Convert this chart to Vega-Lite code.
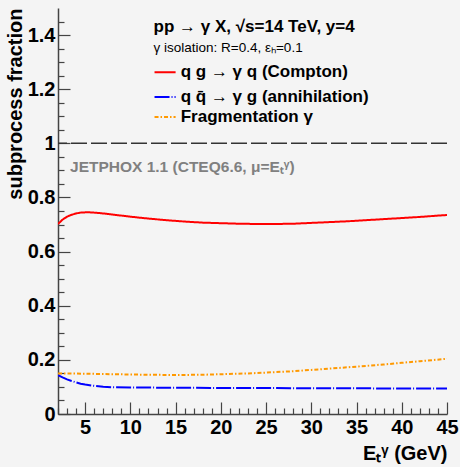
{
  "$schema": "https://vega.github.io/schema/vega-lite/v6.json",
  "width": 389,
  "height": 406,
  "autosize": {"type": "none"},
  "padding": {"left": 58, "top": 8, "right": 13, "bottom": 53},
  "background": "#f4f4f4",
  "config": {
    "view": {"stroke": null, "fill": "#f4f4f4"},
    "font": "Liberation Sans",
    "axis": {
      "labelFont": "Liberation Sans", "labelFontWeight": "bold", "labelFontSize": 20, "labelColor": "#000000",
      "titleFont": "Liberation Sans", "titleFontWeight": "bold", "titleFontSize": 20, "titleColor": "#000000",
      "domainColor": "#444444", "domainWidth": 1.5, "tickColor": "#444444", "tickWidth": 1.2,
      "grid": false, "labelOverlap": false, "labelFlush": false, "labelBound": false
    }
  },
  "resolve": {"axis": {"x": "independent", "y": "independent"}},
  "datasets": {
    "curves": [
      {"series": "Compton", "et": 2, "frac": 0.702}, {"series": "Compton", "et": 2.5, "frac": 0.718},
      {"series": "Compton", "et": 3, "frac": 0.729}, {"series": "Compton", "et": 3.5, "frac": 0.736},
      {"series": "Compton", "et": 4, "frac": 0.741}, {"series": "Compton", "et": 4.5, "frac": 0.744},
      {"series": "Compton", "et": 5, "frac": 0.745}, {"series": "Compton", "et": 5.5, "frac": 0.745},
      {"series": "Compton", "et": 6, "frac": 0.744}, {"series": "Compton", "et": 7, "frac": 0.741},
      {"series": "Compton", "et": 8, "frac": 0.737}, {"series": "Compton", "et": 9, "frac": 0.733},
      {"series": "Compton", "et": 10, "frac": 0.729}, {"series": "Compton", "et": 12, "frac": 0.722},
      {"series": "Compton", "et": 14, "frac": 0.716}, {"series": "Compton", "et": 16, "frac": 0.711},
      {"series": "Compton", "et": 18, "frac": 0.707}, {"series": "Compton", "et": 20, "frac": 0.705},
      {"series": "Compton", "et": 22, "frac": 0.703}, {"series": "Compton", "et": 24, "frac": 0.702},
      {"series": "Compton", "et": 26, "frac": 0.702}, {"series": "Compton", "et": 28, "frac": 0.703},
      {"series": "Compton", "et": 30, "frac": 0.706}, {"series": "Compton", "et": 32, "frac": 0.709},
      {"series": "Compton", "et": 34, "frac": 0.712}, {"series": "Compton", "et": 36, "frac": 0.716},
      {"series": "Compton", "et": 38, "frac": 0.72}, {"series": "Compton", "et": 40, "frac": 0.724},
      {"series": "Compton", "et": 42, "frac": 0.728}, {"series": "Compton", "et": 44, "frac": 0.733},
      {"series": "Compton", "et": 45, "frac": 0.735},
      {"series": "annihilation", "et": 2, "frac": 0.144}, {"series": "annihilation", "et": 2.5, "frac": 0.135},
      {"series": "annihilation", "et": 3, "frac": 0.128}, {"series": "annihilation", "et": 3.5, "frac": 0.122},
      {"series": "annihilation", "et": 4, "frac": 0.117}, {"series": "annihilation", "et": 4.5, "frac": 0.112},
      {"series": "annihilation", "et": 5, "frac": 0.109}, {"series": "annihilation", "et": 6, "frac": 0.104},
      {"series": "annihilation", "et": 7, "frac": 0.101}, {"series": "annihilation", "et": 8, "frac": 0.099},
      {"series": "annihilation", "et": 10, "frac": 0.098}, {"series": "annihilation", "et": 15, "frac": 0.097},
      {"series": "annihilation", "et": 20, "frac": 0.096}, {"series": "annihilation", "et": 25, "frac": 0.096},
      {"series": "annihilation", "et": 30, "frac": 0.095}, {"series": "annihilation", "et": 35, "frac": 0.095},
      {"series": "annihilation", "et": 40, "frac": 0.094}, {"series": "annihilation", "et": 45, "frac": 0.094},
      {"series": "fragmentation", "et": 2, "frac": 0.15}, {"series": "fragmentation", "et": 5, "frac": 0.149},
      {"series": "fragmentation", "et": 8, "frac": 0.147}, {"series": "fragmentation", "et": 10, "frac": 0.146},
      {"series": "fragmentation", "et": 12, "frac": 0.145}, {"series": "fragmentation", "et": 15, "frac": 0.144},
      {"series": "fragmentation", "et": 18, "frac": 0.145}, {"series": "fragmentation", "et": 20, "frac": 0.147},
      {"series": "fragmentation", "et": 23, "frac": 0.15}, {"series": "fragmentation", "et": 25, "frac": 0.153},
      {"series": "fragmentation", "et": 28, "frac": 0.158}, {"series": "fragmentation", "et": 30, "frac": 0.163},
      {"series": "fragmentation", "et": 33, "frac": 0.17}, {"series": "fragmentation", "et": 35, "frac": 0.175},
      {"series": "fragmentation", "et": 38, "frac": 0.183}, {"series": "fragmentation", "et": 40, "frac": 0.189},
      {"series": "fragmentation", "et": 42, "frac": 0.195}, {"series": "fragmentation", "et": 45, "frac": 0.204}
    ],
    "legend": [
      {"series": "Compton", "x0": 12.67, "x1": 15.0, "y": 1.263, "label": "q g → γ q (Compton)", "tx": 15.56},
      {"series": "annihilation", "x0": 12.67, "x1": 15.0, "y": 1.171, "label": "q q̄ → γ g (annihilation)", "tx": 15.56},
      {"series": "fragmentation", "x0": 12.67, "x1": 15.0, "y": 1.097, "label": "Fragmentation γ", "tx": 15.56}
    ]
  },
  "layer": [
    {
      "data": {"name": "curves"},
      "mark": {"type": "line", "strokeWidth": 2, "clip": true},
      "encoding": {
        "x": {"field": "et", "type": "quantitative",
          "scale": {"domain": [2, 45], "nice": false, "zero": false},
          "axis": {
            "orient": "bottom",
            "values": [5, 10, 15, 20, 25, 30, 35, 40, 45],
            "format": "d",
            "tickSize": -12,
            "labelPadding": 15,
            "title": "Eₜᵞ (GeV)", "titleAnchor": "end", "titlePadding": 6
          }
        },
        "y": {"field": "frac", "type": "quantitative",
          "scale": {"domain": [0, 1.5], "nice": false},
          "axis": {
            "orient": "left",
            "values": [0, 0.2, 0.4, 0.6, 0.8, 1, 1.2, 1.4],
            "labelExpr": "format(datum.value, '~g')",
            "tickSize": -12,
            "labelPadding": 15,
            "title": "subprocess fraction", "titleAnchor": "end", "titlePadding": 2
          }
        },
        "color": {"field": "series", "type": "nominal", "legend": null,
          "scale": {"domain": ["Compton", "annihilation", "fragmentation"], "range": ["#ff0000", "#0000ff", "#ff9900"]}},
        "strokeDash": {"field": "series", "type": "nominal", "legend": null,
          "scale": {"domain": ["Compton", "annihilation", "fragmentation"], "range": [[1, 0], [15, 2, 1, 2], [4, 2, 1.5, 2]]}}
      }
    },
    {
      "data": {"values": [{"ref": 1}]},
      "mark": {"type": "rule", "color": "#333333", "strokeWidth": 1.5, "strokeDash": [16, 4]},
      "encoding": {"y": {"field": "ref", "type": "quantitative", "axis": null}}
    },
    {
      "data": {"name": "legend"},
      "mark": {"type": "rule", "strokeWidth": 2},
      "encoding": {
        "x": {"field": "x0", "type": "quantitative",
          "axis": {
            "orient": "bottom",
            "values": [2,3,4,6,7,8,9,11,12,13,14,16,17,18,19,21,22,23,24,26,27,28,29,31,32,33,34,36,37,38,39,41,42,43,44],
            "tickSize": -6, "labels": false, "domain": false, "title": null
          }
        },
        "x2": {"field": "x1"},
        "y": {"field": "y", "type": "quantitative",
          "axis": {
            "orient": "left",
            "values": [0.05,0.1,0.15,0.25,0.3,0.35,0.45,0.5,0.55,0.65,0.7,0.75,0.85,0.9,0.95,1.05,1.1,1.15,1.25,1.3,1.35,1.45],
            "tickSize": -6, "labels": false, "domain": false, "title": null
          }
        },
        "color": {"field": "series", "type": "nominal", "legend": null},
        "strokeDash": {"field": "series", "type": "nominal", "legend": null}
      }
    },
    {
      "data": {"name": "legend"},
      "mark": {"type": "text", "align": "left", "baseline": "middle", "fontSize": 17, "fontWeight": "bold", "font": "Liberation Sans", "color": "#000000"},
      "encoding": {
        "x": {"field": "tx", "type": "quantitative", "axis": null},
        "y": {"field": "y", "type": "quantitative", "axis": null},
        "text": {"field": "label"}
      }
    },
    {
      "data": {"values": [{"label": "pp → γ X, √s=14 TeV, y=4", "tx": 12.56, "ty": 1.43}]},
      "mark": {"type": "text", "align": "left", "baseline": "middle", "fontSize": 17, "fontWeight": "bold", "font": "Liberation Sans", "color": "#000000"},
      "encoding": {
        "x": {"field": "tx", "type": "quantitative", "axis": null},
        "y": {"field": "ty", "type": "quantitative", "axis": null},
        "text": {"field": "label"}
      }
    },
    {
      "data": {"values": [{"label": "γ isolation: R=0.4, εₕ=0.1", "tx": 12.56, "ty": 1.352}]},
      "mark": {"type": "text", "align": "left", "baseline": "middle", "fontSize": 13.5, "font": "Liberation Sans", "color": "#000000"},
      "encoding": {
        "x": {"field": "tx", "type": "quantitative", "axis": null},
        "y": {"field": "ty", "type": "quantitative", "axis": null},
        "text": {"field": "label"}
      }
    },
    {
      "data": {"values": [{"label": "JETPHOX 1.1 (CTEQ6.6, μ=Eₜᵞ)", "tx": 3.33, "ty": 0.912}]},
      "mark": {"type": "text", "align": "left", "baseline": "middle", "fontSize": 15.5, "fontWeight": "bold", "font": "Liberation Sans", "color": "#808080"},
      "encoding": {
        "x": {"field": "tx", "type": "quantitative", "axis": null},
        "y": {"field": "ty", "type": "quantitative", "axis": null},
        "text": {"field": "label"}
      }
    }
  ]
}
